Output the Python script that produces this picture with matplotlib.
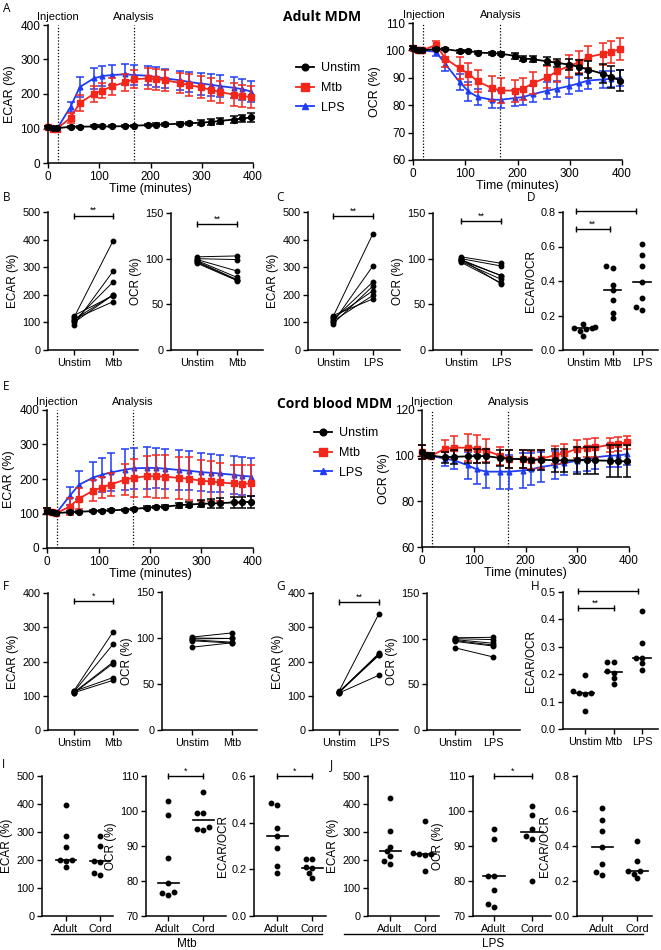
import numpy as np
import matplotlib
matplotlib.use('Agg')
import matplotlib.pyplot as plt
from matplotlib.lines import Line2D
from matplotlib.ticker import FormatStrFormatter

# ---------------- DATA ----------------
time_min = [0, 10, 18, 44, 62, 89, 106, 124, 151, 168, 195, 211, 229, 257, 275, 299, 318, 335, 363, 379, 397]
injection_time = 20
analysis_time = 167
groups = ['Unstim', 'Mtb', 'LPS']

# Adult ECAR (%)
adult_ecar_unstim = [104, 102, 101, 105, 105, 106, 106, 106, 107, 108, 110, 111, 112, 114, 115, 117, 119, 122, 126, 129, 132]
adult_ecar_unstim_err = [3, 2, 2, 3, 3, 3, 3, 3, 3, 3, 4, 4, 4, 5, 5, 7, 8, 9, 10, 11, 12]
adult_ecar_mtb = [103, 100, 100, 131, 174, 200, 210, 222, 234, 243, 245, 243, 240, 232, 226, 219, 212, 206, 198, 194, 191]
adult_ecar_mtb_err = [3, 2, 2, 15, 22, 22, 22, 25, 25, 27, 30, 30, 30, 30, 32, 32, 33, 33, 33, 33, 32]
adult_ecar_lps = [103, 100, 100, 163, 220, 245, 252, 255, 257, 255, 253, 249, 245, 240, 235, 230, 227, 223, 218, 214, 207]
adult_ecar_lps_err = [3, 2, 2, 15, 28, 30, 30, 30, 30, 30, 28, 28, 28, 28, 30, 32, 32, 32, 30, 30, 30]

# Adult OCR (%)
adult_ocr_unstim = [101, 100, 100, 100.5, 100.5, 99.7, 99.8, 99.2, 99, 98.8, 98, 97, 96.8, 96, 95.5, 94.8, 94, 93, 91.5, 90.3, 89]
adult_ocr_unstim_err = [0.5, 0.5, 0.5, 0.5, 0.5, 0.5, 0.5, 0.5, 0.5, 0.5, 1, 1, 1, 1.5, 1.5, 2, 2.5, 3, 3.5, 4, 4]
adult_ocr_mtb = [101, 100, 100, 102, 97, 93.5, 91.5, 88.7, 86.2, 85.4, 85.3, 86, 88, 90.2, 92.3, 94.4, 95.6, 97.6, 98.7, 99.5, 100.5]
adult_ocr_mtb_err = [0.5, 0.5, 0.5, 1.5, 3, 4, 4, 4, 4.5, 4.5, 4, 4, 4, 4, 4, 4, 4, 4, 4, 4, 4]
adult_ocr_lps = [101, 100, 100, 99.5, 95, 88.5, 85, 83, 82, 82, 82.6, 83, 84, 85.3, 86, 87, 88, 89, 89.4, 89.6, 90]
adult_ocr_lps_err = [0.5, 0.5, 0.5, 1.5, 2.5, 3, 3.5, 3, 3, 3, 3, 3, 3, 3, 3, 3, 3, 3, 3, 3, 3]

# Cord blood ECAR (%)
cord_ecar_unstim = [108, 103, 101, 104, 105, 107, 108, 109, 111, 113, 117, 119, 120, 124, 126, 128, 129, 130, 132, 133, 134]
cord_ecar_unstim_err = [8, 3, 3, 3, 3, 3, 3, 3, 3, 3, 4, 4, 4, 7, 8, 10, 12, 14, 15, 16, 17]
cord_ecar_mtb = [108, 103, 101, 120, 143, 166, 175, 184, 198, 204, 208, 208, 207, 203, 201, 195, 193, 190, 187, 186, 187]
cord_ecar_mtb_err = [8, 3, 3, 25, 30, 30, 30, 32, 45, 55, 60, 62, 62, 62, 62, 60, 58, 55, 55, 55, 55]
cord_ecar_lps = [108, 103, 101, 151, 183, 204, 212, 219, 227, 231, 232, 232, 230, 226, 224, 220, 218, 216, 212, 209, 207]
cord_ecar_lps_err = [8, 3, 3, 25, 40, 45, 50, 55, 60, 60, 60, 58, 58, 57, 57, 55, 55, 55, 55, 55, 55]

# Cord blood OCR (%)
cord_ocr_unstim = [101.5, 100.3, 100, 99.3, 99.5, 99.7, 99.8, 99.8, 99, 98.6, 98.5, 98.2, 98.2, 98, 97.9, 98, 98, 97.9, 97.8, 97.6, 97.5]
cord_ocr_unstim_err = [3, 1, 1, 2.5, 3, 3, 3, 3, 3.5, 4, 4, 4.5, 4.5, 5, 5, 6, 6, 6, 7, 7, 7]
cord_ocr_mtb = [101.5, 100.3, 100, 103, 103.5, 103.5, 103, 102.2, 100, 98.6, 98.5, 98.2, 98.6, 100.2, 101, 103, 103.4, 103.6, 104.8, 105.2, 105.8]
cord_ocr_mtb_err = [3, 1, 1, 4, 5, 6, 6, 5, 4, 4, 4, 4, 4, 4, 4, 4, 4, 4, 3, 3, 3]
cord_ocr_lps = [101.5, 100.3, 100, 98.6, 98, 95.7, 94, 93, 93, 93, 93.5, 94, 95, 96, 96.7, 97.8, 98.5, 99.3, 100, 100.1, 100.7]
cord_ocr_lps_err = [3, 1, 1, 3, 4, 6, 6.5, 7, 7.5, 7.5, 7.5, 7, 6.5, 6, 5, 5, 5, 5, 5, 5, 5]

# Adult donors at analysis time point
adult_ecar_pt_unstim = [118, 92, 105, 110, 125, 100, 112]
adult_ecar_pt_mtb = [395, 285, 246, 200, 197, 199, 175]
adult_ocr_pt_unstim = [102, 100, 99, 98, 97, 96, 95]
adult_ocr_pt_mtb = [103, 99, 86.5, 79.5, 77, 76.5, 76]
adult_ecar_pt_unstim2 = [120, 100, 110, 95, 115, 105, 125]
adult_ecar_pt_lps = [422, 305, 247, 232, 215, 198, 185]
adult_ocr_pt_unstim2 = [102, 100, 99, 98, 97, 96, 99.5]
adult_ocr_pt_lps = [95, 92, 81.5, 81.5, 77.5, 73.5, 72.5]
adult_ratio_unstim = [0.13, 0.135, 0.12, 0.15, 0.083, 0.11, 0.126]
adult_ratio_mtb = [0.485, 0.475, 0.378, 0.345, 0.29, 0.216, 0.186]
adult_ratio_lps = [0.616, 0.548, 0.488, 0.397, 0.30, 0.252, 0.233]

# Cord donors at analysis time point
cord_ecar_pt_unstim = [115, 112, 110, 108, 113, 109]
cord_ecar_pt_mtb = [286, 250, 198, 194, 153, 145]
cord_ocr_pt_unstim = [101, 100, 99, 98, 97, 90]
cord_ocr_pt_mtb = [105.5, 99.5, 99.5, 95.5, 94.5, 94.8]
cord_ecar_pt_unstim2 = [113, 111, 110, 109, 112, 108]
cord_ecar_pt_lps = [340, 224, 222, 220, 218, 160]
cord_ocr_pt_unstim2 = [101, 100, 99, 98, 97, 90]
cord_ocr_pt_lps = [101.5, 99, 95, 93, 92, 80]
cord_ratio_unstim = [0.197, 0.14, 0.133, 0.13, 0.128, 0.067]
cord_ratio_mtb = [0.245, 0.245, 0.21, 0.205, 0.185, 0.165]
cord_ratio_lps = [0.43, 0.315, 0.26, 0.26, 0.24, 0.215]

pair_labels_mtb = ['Unstim', 'Mtb']
pair_labels_lps = ['Unstim', 'LPS']
origin_labels = ['Adult', 'Cord']

# ---------------- FIGURE ----------------
W, H = 661, 950
plt.rcParams['font.family'] = ['Liberation Sans', 'DejaVu Sans']
plt.rcParams['axes.linewidth'] = 1.1
fig = plt.figure(figsize=(W / 100, H / 100), dpi=100)

styles = {
    'Unstim': dict(color='black', marker='o', ms=4.2, z=4),
    'Mtb': dict(color='#f2261b', marker='s', ms=4.6, z=3),
    'LPS': dict(color='#1f3cf5', marker='^', ms=3.4, z=2),
}


def add_ax(l, t, r, b):
    return fig.add_axes([l / W, 1 - b / H, (r - l) / W, (b - t) / H])


def clean(ax, labelsize=8.5):
    for s in ['top', 'right']:
        ax.spines[s].set_visible(False)
    ax.tick_params(direction='out', length=3.5, width=1.0, labelsize=labelsize, pad=2)


def timecourse(box, series, ylim, yticks, ylabel):
    ax = add_ax(*box)
    for g in ['LPS', 'Mtb', 'Unstim']:
        y, e = series[g]
        st = styles[g]
        ax.errorbar(time_min, y, yerr=e, color=st['color'], marker=st['marker'], ms=st['ms'],
                    lw=1.3, elinewidth=1.1, capsize=3, capthick=1.1, clip_on=False, zorder=st['z'])
    ax.axvline(injection_time, ls=(0, (1, 1.5)), color='k', lw=0.9, zorder=1)
    ax.axvline(analysis_time, ls=(0, (1, 1.5)), color='k', lw=0.9, zorder=1)
    ax.set_xlim(0, 400)
    ax.set_ylim(*ylim)
    ax.set_yticks(yticks)
    ax.set_xticks([0, 100, 200, 300, 400])
    ax.set_ylabel(ylabel, fontsize=9, labelpad=3)
    ax.set_xlabel('Time (minutes)', fontsize=9, labelpad=0)
    tr = ax.get_xaxis_transform()
    for xv, txt in [(injection_time, 'Injection'), (analysis_time, 'Analysis')]:
        ax.annotate(txt, xy=(xv, 1.0), xycoords=tr, xytext=(0, 2), textcoords='offset points',
                    ha='center', va='bottom', fontsize=8)
    clean(ax)
    return ax


def small_ax(l, t, r, b, x0, dx, ylim, yticks, ylabel, xlabels, fmt=None, labelsize=7.8):
    ax = add_ax(l, t, r, b)
    ax.set_xlim((l - x0) / dx, (r - x0) / dx)
    ax.set_ylim(*ylim)
    ax.set_yticks(yticks)
    ax.set_xticks(range(len(xlabels)))
    ax.set_xticklabels(xlabels)
    if fmt:
        ax.yaxis.set_major_formatter(FormatStrFormatter(fmt))
    ax.set_ylabel(ylabel, fontsize=8.5, labelpad=2)
    clean(ax, labelsize)
    ax._px = (dx, (b - t) / (ylim[1] - ylim[0]))
    return ax


def paired(ax, before, after):
    for b0, a0 in zip(before, after):
        ax.plot([0, 1], [b0, a0], '-', color='k', lw=0.7, marker='o', ms=3.2, clip_on=False)


def swarm(ax, pos, vals, d=4.8):
    dx, dy = ax._px
    ys = np.asarray(vals) * dy
    order = np.argsort(ys)
    placed = []
    offs = np.zeros(len(vals))
    for i in order:
        for k in [0, -1, 1, -2, 2, -3, 3, -4, 4]:
            xo = k * d * 0.65
            if all((xo - px) ** 2 + (ys[i] - py) ** 2 >= d * d for px, py in placed):
                break
        placed.append((xo, ys[i]))
        offs[i] = xo / dx
    ax.plot(pos + offs, vals, 'o', color='k', ms=3.2, ls='none', clip_on=False)
    med = np.median(vals)
    ax.plot([pos - 0.3, pos + 0.3], [med, med], '-', color='k', lw=1.2)


def bracket(ax, x1, x2, y, text):
    ax.plot([x1, x2], [y, y], '-', color='k', lw=1.0, clip_on=False)
    ax.plot([x1, x2], [y, y], ls='none', marker='|', ms=5, mew=1.0, color='k', clip_on=False)
    ax.annotate(text, xy=((x1 + x2) / 2, y), xytext=(0, 0.5), textcoords='offset points',
                ha='center', va='bottom', fontsize=6.5)


# ---- A ----
axA1 = timecourse((48, 25, 253, 163),
                  {'Unstim': (adult_ecar_unstim, adult_ecar_unstim_err),
                   'Mtb': (adult_ecar_mtb, adult_ecar_mtb_err),
                   'LPS': (adult_ecar_lps, adult_ecar_lps_err)},
                  (0, 400), [0, 100, 200, 300, 400], 'ECAR (%)')
axA2 = timecourse((413, 23, 622, 160),
                  {'Unstim': (adult_ocr_unstim, adult_ocr_unstim_err),
                   'Mtb': (adult_ocr_mtb, adult_ocr_mtb_err),
                   'LPS': (adult_ocr_lps, adult_ocr_lps_err)},
                  (60, 110), [60, 70, 80, 90, 100, 110], 'OCR (%)')

handles = [Line2D([], [], color=styles[g]['color'], marker=styles[g]['marker'], ms=styles[g]['ms'] + 0.6, lw=1.3)
           for g in groups]
axA1.legend(handles, groups, loc='upper left', bbox_to_anchor=(290 / W, 1 - 56 / H),
            bbox_transform=fig.transFigure, frameon=False, fontsize=9, handlelength=1.4,
            handletextpad=0.6, labelspacing=0.62, borderpad=0)
fig.text(283 / W, 1 - 17 / H, 'Adult MDM', fontsize=10, fontweight='bold', va='center',
         family=['Open Sans', 'DejaVu Sans'])

# ---- B ----
axB1 = small_ax(48, 212, 138, 350, 74, 39, (0, 500), [0, 100, 200, 300, 400, 500], 'ECAR (%)', pair_labels_mtb)
paired(axB1, adult_ecar_pt_unstim, adult_ecar_pt_mtb)
bracket(axB1, 0, 1, 487, '**')
axB2 = small_ax(171, 213, 263, 350, 197, 40, (0, 150), [0, 50, 100, 150], 'OCR (%)', pair_labels_mtb)
paired(axB2, adult_ocr_pt_unstim, adult_ocr_pt_mtb)
bracket(axB2, 0, 1, 138, '**')

# ---- C ----
axC1 = small_ax(308, 212, 400, 350, 333, 40, (0, 500), [0, 100, 200, 300, 400, 500], 'ECAR (%)', pair_labels_lps)
paired(axC1, adult_ecar_pt_unstim2, adult_ecar_pt_lps)
bracket(axC1, 0, 1, 485, '**')
axC2 = small_ax(433, 213, 532, 350, 461, 40, (0, 150), [0, 50, 100, 150], 'OCR (%)', pair_labels_lps)
paired(axC2, adult_ocr_pt_unstim2, adult_ocr_pt_lps)
bracket(axC2, 0, 1, 141, '**')

# ---- D ----
axD = small_ax(563, 212, 658, 350, 583, 29.5, (0, 0.8), [0, 0.2, 0.4, 0.6, 0.8], 'ECAR/OCR', groups, fmt='%.1f')
for i, v in enumerate([adult_ratio_unstim, adult_ratio_mtb, adult_ratio_lps]):
    swarm(axD, i, v)
bracket(axD, -0.25, 0.9, 0.70, '**')
bracket(axD, -0.25, 1.8, 0.805, '**')

# ---- E ----
axE1 = timecourse((47, 410, 253, 548),
                  {'Unstim': (cord_ecar_unstim, cord_ecar_unstim_err),
                   'Mtb': (cord_ecar_mtb, cord_ecar_mtb_err),
                   'LPS': (cord_ecar_lps, cord_ecar_lps_err)},
                  (0, 400), [0, 100, 200, 300, 400], 'ECAR (%)')
axE2 = timecourse((422, 410, 629, 547),
                  {'Unstim': (cord_ocr_unstim, cord_ocr_unstim_err),
                   'Mtb': (cord_ocr_mtb, cord_ocr_mtb_err),
                   'LPS': (cord_ocr_lps, cord_ocr_lps_err)},
                  (60, 120), [60, 80, 100, 120], 'OCR (%)')
axE1.legend(handles, groups, loc='upper left', bbox_to_anchor=(308 / W, 1 - 421 / H),
            bbox_transform=fig.transFigure, frameon=False, fontsize=9, handlelength=1.4,
            handletextpad=0.6, labelspacing=0.62, borderpad=0)
fig.text(277 / W, 1 - 404 / H, 'Cord blood MDM', fontsize=10, fontweight='bold', va='center',
         family=['Open Sans', 'DejaVu Sans'])

# ---- F ----
axF1 = small_ax(48, 593, 138, 730, 74, 39, (0, 400), [0, 100, 200, 300, 400], 'ECAR (%)', pair_labels_mtb)
paired(axF1, cord_ecar_pt_unstim, cord_ecar_pt_mtb)
bracket(axF1, 0, 1, 376, '*')
axF2 = small_ax(162, 592, 257, 730, 192, 40, (0, 150), [0, 50, 100, 150], 'OCR (%)', pair_labels_mtb)
paired(axF2, cord_ocr_pt_unstim, cord_ocr_pt_mtb)

# ---- G ----
axG1 = small_ax(313, 593, 398, 730, 339, 40, (0, 400), [0, 100, 200, 300, 400], 'ECAR (%)', pair_labels_lps)
paired(axG1, cord_ecar_pt_unstim2, cord_ecar_pt_lps)
bracket(axG1, 0, 1, 373, '**')
axG2 = small_ax(427, 593, 520, 730, 455, 38, (0, 150), [0, 50, 100, 150], 'OCR (%)', pair_labels_lps)
paired(axG2, cord_ocr_pt_unstim2, cord_ocr_pt_lps)

# ---- H ----
axH = small_ax(563, 592, 658, 729, 585, 28.5, (0, 0.5), [0, 0.1, 0.2, 0.3, 0.4, 0.5], 'ECAR/OCR', groups, fmt='%.1f')
for i, v in enumerate([cord_ratio_unstim, cord_ratio_mtb, cord_ratio_lps]):
    swarm(axH, i, v)
bracket(axH, -0.25, 1.0, 0.44, '**')
bracket(axH, -0.25, 1.85, 0.505, '**')

# ---- I ----
axI1 = small_ax(42, 776, 113, 916, 66, 34, (0, 500), [0, 100, 200, 300, 400, 500], 'ECAR (%)', origin_labels)
swarm(axI1, 0, adult_ecar_pt_mtb)
swarm(axI1, 1, cord_ecar_pt_mtb)
axI2 = small_ax(146, 776, 226, 916, 168, 35, (70, 110), [70, 80, 90, 100, 110], 'OCR (%)', origin_labels)
swarm(axI2, 0, adult_ocr_pt_mtb)
swarm(axI2, 1, cord_ocr_pt_mtb)
bracket(axI2, 0, 1, 110, '*')
axI3 = small_ax(254, 776, 326, 916, 277, 35, (0, 0.6), [0, 0.2, 0.4, 0.6], 'ECAR/OCR', origin_labels, fmt='%.1f')
swarm(axI3, 0, adult_ratio_mtb)
swarm(axI3, 1, cord_ratio_mtb)
bracket(axI3, 0, 1, 0.6, '*')

# ---- J ----
axJ1 = small_ax(368, 776, 439, 916, 390, 35, (0, 500), [0, 100, 200, 300, 400, 500], 'ECAR (%)', origin_labels)
swarm(axJ1, 0, adult_ecar_pt_lps)
swarm(axJ1, 1, cord_ecar_pt_lps)
axJ2 = small_ax(473, 776, 551, 916, 494, 38, (70, 110), [70, 80, 90, 100, 110], 'OCR (%)', origin_labels)
swarm(axJ2, 0, adult_ocr_pt_lps)
swarm(axJ2, 1, cord_ocr_pt_lps)
bracket(axJ2, 0, 1, 110, '*')
axJ3 = small_ax(577, 776, 652, 916, 602, 35, (0, 0.8), [0, 0.2, 0.4, 0.6, 0.8], 'ECAR/OCR', origin_labels, fmt='%.1f')
swarm(axJ3, 0, adult_ratio_lps)
swarm(axJ3, 1, cord_ratio_lps)

# group lines under I and J
for x1, x2, lab in [(51, 322, 'Mtb'), (344, 643, 'LPS')]:
    fig.add_artist(Line2D([x1 / W, x2 / W], [1 - 934 / H, 1 - 934 / H], color='k', lw=1.0))
    fig.text((x1 + x2) / 2 / W, 1 - 944 / H, lab, ha='center', va='center', fontsize=8.5)

# panel letters
for lab, x, y in [('A', 3, 8), ('B', 3, 197), ('C', 276, 197), ('D', 527, 197), ('E', 3, 386),
                  ('F', 3, 586), ('G', 276, 586), ('H', 531, 586), ('I', 2, 765), ('J', 330, 765)]:
    fig.text(x / W, 1 - y / H, lab, fontsize=8.5, va='center', ha='left',
             family=['Open Sans', 'DejaVu Sans'])

fig.savefig('out.png', dpi=100)
